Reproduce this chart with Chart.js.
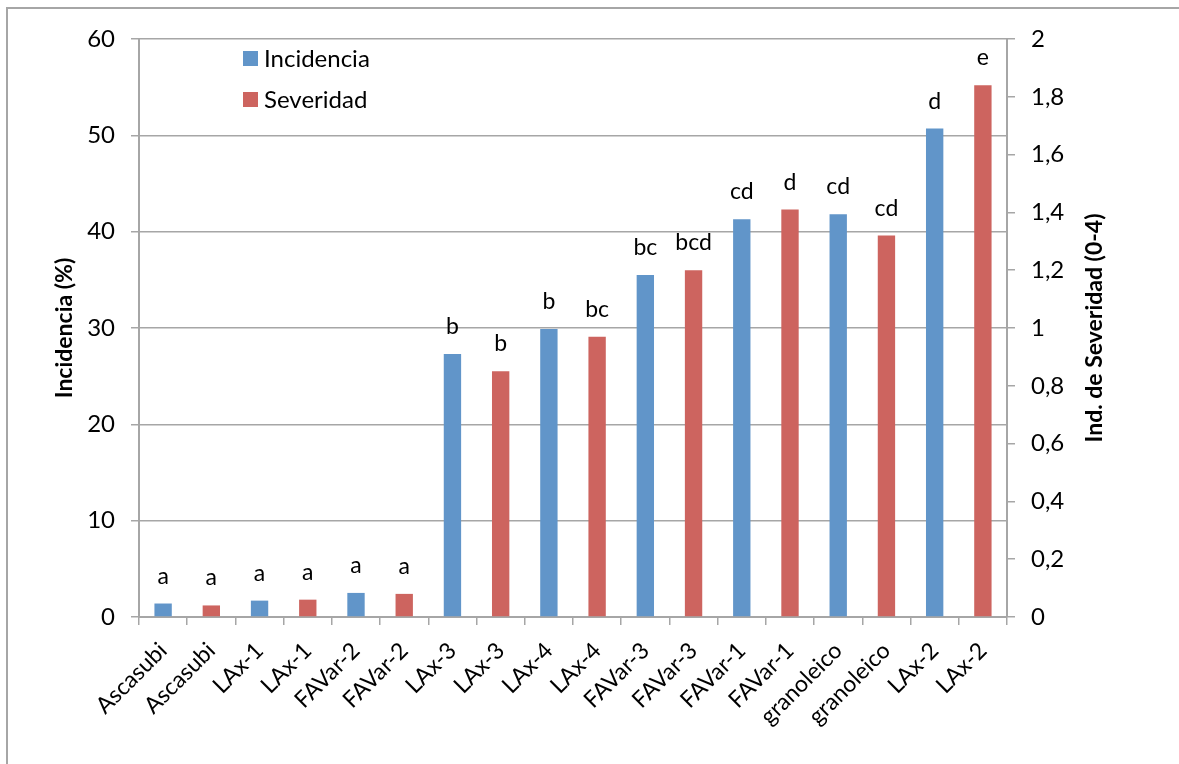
<!DOCTYPE html>
<html>
<head>
<meta charset="utf-8">
<script src="https://cdn.jsdelivr.net/npm/chart.js@4"></script>
<style>
  body { margin: 0; background: #fff; }
  #wrap { position: relative; width: 1179px; height: 764px; }
</style>
</head>
<body>
<div id="wrap"><canvas id="grafico"></canvas></div>
<script>
// datos
const categorias = ["Ascasubi", "Ascasubi", "LAx-1", "LAx-1", "FAVar-2", "FAVar-2",
  "LAx-3", "LAx-3", "LAx-4", "LAx-4", "FAVar-3", "FAVar-3",
  "FAVar-1", "FAVar-1", "granoleico", "granoleico", "LAx-2", "LAx-2"];
const incidencia = [1.4, null, 1.7, null, 2.5, null, 27.3, null, 29.9, null,
  35.5, null, 41.3, null, 41.8, null, 50.7, null];
const severidad = [null, 0.04, null, 0.06, null, 0.08, null, 0.85, null, 0.97,
  null, 1.2, null, 1.41, null, 1.32, null, 1.84];
const letras = ["a", "a", "a", "a", "a", "a", "b", "b", "b", "bc", "bc", "bcd",
  "cd", "d", "cd", "cd", "d", "e"];
const ticksIzq = [0, 10, 20, 30, 40, 50, 60];
const ticksDer = [0, 0.2, 0.4, 0.6, 0.8, 1, 1.2, 1.4, 1.6, 1.8, 2];

const gris = "#a6a6a6";
const fuente = "Lato, 'Liberation Sans', sans-serif";
Chart.defaults.font.family = fuente;
Chart.defaults.color = "#000";

// letras sobre las barras, leyenda interna, titulos y marco
const extras = {
  id: "extras",
  beforeDraw(chart) {
    const c = chart.ctx;
    c.save();
    c.strokeStyle = gris;
    c.lineWidth = 2;
    c.strokeRect(7, 8, 1300, 900);
    c.restore();
  },
  afterDraw(chart) {
    const c = chart.ctx;
    const area = chart.chartArea;
    c.save();
    c.fillStyle = "#000";
    c.textAlign = "center";
    c.textBaseline = "alphabetic";
    c.font = "23px " + fuente;
    chart.data.datasets.forEach((ds, i) => {
      chart.getDatasetMeta(i).data.forEach((bar, j) => {
        if (ds.data[j] == null) return;
        c.fillText(letras[j], bar.x, bar.y - 20);
      });
    });

    // leyenda
    c.font = "24px " + fuente;
    c.textAlign = "left";
    c.textBaseline = "middle";
    chart.data.datasets.forEach((ds, i) => {
      const y = area.top + 12 + i * 41;
      c.fillStyle = ds.backgroundColor;
      c.fillRect(area.left + 104, y, 15, 15);
      c.fillStyle = "#000";
      c.fillText(ds.label, area.left + 125, y + 8);
    });

    // titulos de ejes
    c.font = "bold 23px " + fuente;
    c.textAlign = "center";
    const yc = (area.top + area.bottom) / 2;
    c.translate(65, yc);
    c.rotate(-Math.PI / 2);
    c.fillText("Incidencia (%)", 0, 0);
    c.setTransform(1, 0, 0, 1, 0, 0);
    c.translate(1095, yc);
    c.rotate(-Math.PI / 2);
    c.fillText("Ind. de Severidad (0-4)", 0, 0);
    c.restore();
  }
};

new Chart(document.getElementById("grafico"), {
  type: "bar",
  data: {
    labels: categorias,
    datasets: [
      {
        label: "Incidencia",
        data: incidencia,
        yAxisID: "y",
        backgroundColor: "#6195c9",
        grouped: false,
        barPercentage: 0.36,
        categoryPercentage: 1
      },
      {
        label: "Severidad",
        data: severidad,
        yAxisID: "y1",
        backgroundColor: "#cd645f",
        grouped: false,
        barPercentage: 0.36,
        categoryPercentage: 1
      }
    ]
  },
  options: {
    responsive: true,
    maintainAspectRatio: false,
    animation: false,
    layout: { padding: { top: 39, left: 0, right: 0, bottom: 0 } },
    plugins: {
      legend: { display: false },
      tooltip: { enabled: false }
    },
    scales: {
      x: {
        grid: { drawOnChartArea: false, color: gris, lineWidth: 1.5, tickLength: 8 },
        border: { color: gris, width: 2 },
        ticks: { autoSkip: false, maxRotation: 45, minRotation: 45, font: { size: 23 }, padding: 12 },
        afterFit(s) { s.height = 147; }
      },
      y: {
        position: "left",
        min: 0,
        max: 60,
        afterBuildTicks(s) { s.ticks = ticksIzq.map(v => ({ value: v })); },
        grid: { color: gris, lineWidth: 1.5, tickLength: 8 },
        border: { color: gris, width: 2 },
        ticks: { font: { size: 24 }, padding: 16 },
        afterFit(s) { s.width = 139; }
      },
      y1: {
        position: "right",
        min: 0,
        max: 2,
        afterBuildTicks(s) { s.ticks = ticksDer.map(v => ({ value: v })); },
        grid: { drawOnChartArea: false, color: gris, lineWidth: 1.5, tickLength: 8 },
        border: { color: gris, width: 2 },
        ticks: {
          font: { size: 24 },
          padding: 16,
          callback: v => String(+v.toFixed(1)).replace(".", ",")
        },
        afterFit(s) { s.width = 172; }
      }
    }
  },
  plugins: [extras]
});
</script>
</body>
</html>
